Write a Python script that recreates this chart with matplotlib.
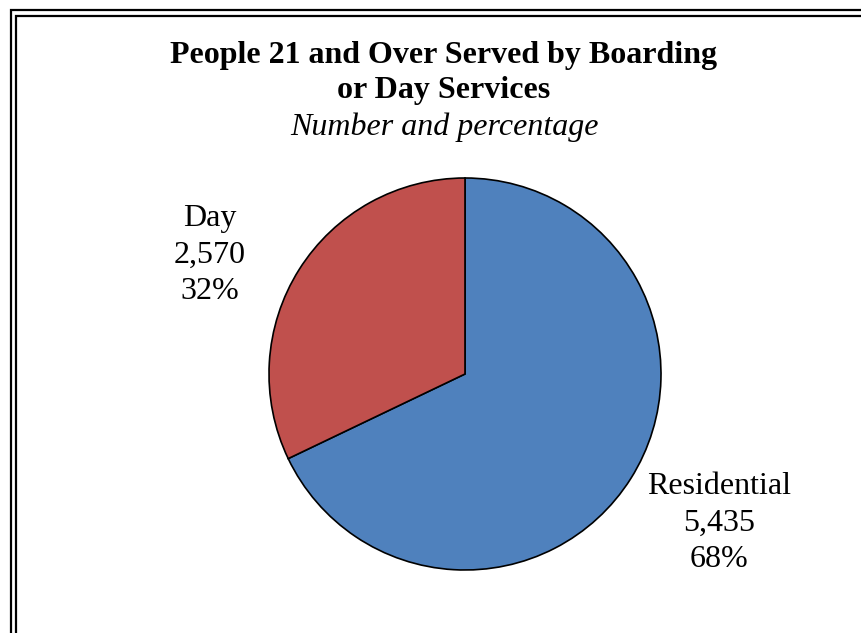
import matplotlib
matplotlib.use("Agg")
import matplotlib.pyplot as plt
from matplotlib.patches import Rectangle

categories = ["Residential", "Day"]
values = [5435, 2570]
colors = ["#4F81BD", "#C0504D"]

W, H = 862, 633
fig = plt.figure(figsize=(W / 100, H / 100), dpi=100)
fig.patch.set_facecolor("white")

def fx(px):
    return px / W

def fy(py):
    return 1 - py / H

# double border
for (x0, y0) in [(11.5, 10.5), (16.5, 15.5)]:
    fig.patches.append(Rectangle((fx(x0), fy(H + 50)), fx(W + 50 - x0), (H + 50 - y0) / H,
                                 transform=fig.transFigure, fill=False,
                                 edgecolor="black", linewidth=1.6))

serif = ["Liberation Serif", "DejaVu Serif"]

fig.text(fx(444), fy(63), "People 21 and Over Served by Boarding", ha="center", va="baseline",
         fontsize=23, fontweight="bold", family=serif)
fig.text(fx(444), fy(98), "or Day Services", ha="center", va="baseline",
         fontsize=23, fontweight="bold", family=serif)
fig.text(fx(444), fy(135), "Number and percentage", ha="center", va="baseline",
         fontsize=23, fontstyle="italic", family=serif)

cx, cy, r = 465, 374, 196
ax = fig.add_axes([fx(cx - r), fy(cy + r), 2 * r / W, 2 * r / H])
ax.pie(values, colors=colors, startangle=90, counterclock=False, radius=1,
       wedgeprops=dict(edgecolor="black", linewidth=1.2))
ax.set_xlim(-1, 1)
ax.set_ylim(-1, 1)
ax.axis("off")

total = sum(values)
label_pos = {"Day": (210, 255), "Residential": (719, 523)}
for cat, val in zip(categories, values):
    pct = round(100 * val / total)
    x, y = label_pos[cat]
    fig.text(fx(x), fy(y), f"{cat}\n{val:,}\n{pct}%", ha="center", va="center",
             fontsize=23, family=serif, linespacing=1.34)

fig.savefig("out.png", dpi=100)
